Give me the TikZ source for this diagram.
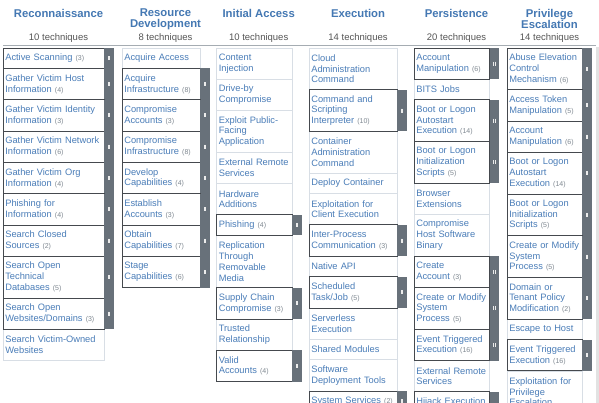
\documentclass[tikz,border=0pt]{standalone}
\usepackage{fontspec}
\setmainfont{Liberation Sans}
\usepackage{tikz}
\usetikzlibrary{positioning}
\definecolor{blue600}{HTML}{4A7DB8}
\definecolor{blue700}{HTML}{4478B3}
\definecolor{gray300}{HTML}{D8DEE5}
\definecolor{gray400}{HTML}{E2E2E2}
\definecolor{gray500}{HTML}{7F8891}
\definecolor{gray600}{HTML}{555555}
\definecolor{gray700}{HTML}{68717A}
\definecolor{gray800}{HTML}{45494E}
\tikzstyle{tactic}=[anchor=north, inner sep=0pt, align=center, text=blue700, font=\fontsize{11.3}{10.5}\selectfont\bfseries]
\tikzstyle{ntech}=[anchor=base, inner sep=0pt, text=gray600, font=\fontsize{9.5}{11}\selectfont]
\tikzstyle{tech}=[rectangle, draw=gray300, line width=0.8pt, outer sep=0pt, inner xsep=2.3pt, inner ysep=0pt, align=left, text=blue600, font=\fontsize{9.3}{10.8}\selectfont]
\tikzstyle{grip}=[draw=white!85!gray, line width=0.7pt]
\tikzstyle{ht1}=[minimum height=20.5pt]
\tikzstyle{ht2}=[minimum height=31.3pt]
\tikzstyle{ht3}=[minimum height=41.7pt]
\tikzstyle{ht4}=[minimum height=52.3pt]
\tikzstyle{wRc}=[text width=96.4pt]
\tikzstyle{wRd}=[text width=73.4pt]
\tikzstyle{wIa}=[text width=70.9pt]
\tikzstyle{wEx}=[text width=83.4pt]
\tikzstyle{wPe}=[text width=70.9pt]
\tikzstyle{wPv}=[text width=70.4pt]
% sub-technique count and the dark side bar
\newcommand{\nsub}[1]{{\fontsize{7}{8}\selectfont\color{gray500}(#1)}}
\newcommand{\subbar}[1]{%
  \draw[gray800, line width=0.9pt] (#1.north west) rectangle (#1.south east);
  \fill[gray700] (#1.north east) rectangle ([xshift=9.7pt]#1.south east);
  \draw[grip] ([xshift=4pt,yshift=2pt]#1.east) -- ++(0,4) ([xshift=5.8pt,yshift=2pt]#1.east) -- ++(0,4);}

\begin{document}
\begin{tikzpicture}[x=1pt, y=-1pt]
	\clip (0,0) rectangle (599,403);
	\fill[white] (0,0) rectangle (599,403);
	\fill[gray400] (596,47) rectangle (599,403);
	% tactics
	\node[tactic] (tRc) at (58.5,9) {Reconnaissance};
	\node[tactic] (tRd) at (165.5,9) {Resource\\Development};
	\node[tactic] (tIa) at (258.7,9) {Initial Access};
	\node[tactic] (tEx) at (358,9) {Execution};
	\node[tactic] (tPe) at (456.5,9) {Persistence};
	\node[tactic] (tPv) at (549.5,9) {Privilege\\Escalation};
	\node[ntech] (nRc) at (58.5,40.5) {10 techniques};
	\node[ntech] (nRd) at (165.5,40.5) {8 techniques};
	\node[ntech] (nIa) at (258.7,40.5) {10 techniques};
	\node[ntech] (nEx) at (358,40.5) {14 techniques};
	\node[ntech] (nPe) at (456.5,40.5) {20 techniques};
	\node[ntech] (nPv) at (549.5,40.5) {14 techniques};
	\path[draw=gray500!70, line width=1pt] (3,45.5)--(596,45.5);

	% Reconnaissance
	\node[tech, wRc, ht1, anchor=north west] (rc1) at (3,48) {Active Scanning \nsub{3}};
	\node[tech, wRc, ht2, below=0pt of rc1] (rc2) {Gather Victim Host\\Information \nsub{4}};
	\node[tech, wRc, ht2, below=0pt of rc2] (rc3) {Gather Victim Identity\\Information \nsub{3}};
	\node[tech, wRc, ht2, below=0pt of rc3] (rc4) {Gather Victim Network\\Information \nsub{6}};
	\node[tech, wRc, ht2, below=0pt of rc4] (rc5) {Gather Victim Org\\Information \nsub{4}};
	\node[tech, wRc, ht2, below=0pt of rc5] (rc6) {Phishing for\\Information \nsub{4}};
	\node[tech, wRc, ht2, below=0pt of rc6] (rc7) {Search Closed\\Sources \nsub{2}};
	\node[tech, wRc, ht3, below=0pt of rc7] (rc8) {Search Open\\Technical\\Databases \nsub{5}};
	\node[tech, wRc, ht2, below=0pt of rc8] (rc9) {Search Open\\Websites/Domains \nsub{3}};
	\node[tech, wRc, ht2, below=0pt of rc9] (rc10) {Search Victim-Owned\\Websites};
	\subbar{rc1}\subbar{rc2}\subbar{rc3}\subbar{rc4}\subbar{rc5}
	\subbar{rc6}\subbar{rc7}\subbar{rc8}\subbar{rc9}

	% Resource Development
	\node[tech, wRd, ht1, anchor=north west] (rd1) at (122,48) {Acquire Access};
	\node[tech, wRd, ht2, below=0pt of rd1] (rd2) {Acquire\\Infrastructure \nsub{8}};
	\node[tech, wRd, ht2, below=0pt of rd2] (rd3) {Compromise\\Accounts \nsub{3}};
	\node[tech, wRd, ht2, below=0pt of rd3] (rd4) {Compromise\\Infrastructure \nsub{8}};
	\node[tech, wRd, ht2, below=0pt of rd4] (rd5) {Develop\\Capabilities \nsub{4}};
	\node[tech, wRd, ht2, below=0pt of rd5] (rd6) {Establish\\Accounts \nsub{3}};
	\node[tech, wRd, ht2, below=0pt of rd6] (rd7) {Obtain\\Capabilities \nsub{7}};
	\node[tech, wRd, ht2, below=0pt of rd7] (rd8) {Stage\\Capabilities \nsub{6}};
	\subbar{rd2}\subbar{rd3}\subbar{rd4}\subbar{rd5}\subbar{rd6}\subbar{rd7}\subbar{rd8}

	% Initial Access
	\node[tech, wIa, ht2, anchor=north west] (ia1) at (216.5,48) {Content\\Injection};
	\node[tech, wIa, ht2, below=0pt of ia1] (ia2) {Drive-by\\Compromise};
	\node[tech, wIa, ht3, below=0pt of ia2] (ia3) {Exploit Public-\\Facing\\Application};
	\node[tech, wIa, ht2, below=0pt of ia3] (ia4) {External Remote\\Services};
	\node[tech, wIa, ht2, below=0pt of ia4] (ia5) {Hardware\\Additions};
	\node[tech, wIa, ht1, below=0pt of ia5] (ia6) {Phishing \nsub{4}};
	\node[tech, wIa, ht4, below=0pt of ia6] (ia7) {Replication\\Through\\Removable\\Media};
	\node[tech, wIa, ht2, below=0pt of ia7] (ia8) {Supply Chain\\Compromise \nsub{3}};
	\node[tech, wIa, ht2, below=0pt of ia8] (ia9) {Trusted\\Relationship};
	\node[tech, wIa, ht2, below=0pt of ia9] (ia10) {Valid\\Accounts \nsub{4}};
	\subbar{ia6}\subbar{ia8}\subbar{ia10}

	% Execution
	\node[tech, wEx, ht3, anchor=north west] (ex1) at (309,48) {Cloud\\Administration\\Command};
	\node[tech, wEx, ht3, below=0pt of ex1] (ex2) {Command and\\Scripting\\Interpreter \nsub{10}};
	\node[tech, wEx, ht3, below=0pt of ex2] (ex3) {Container\\Administration\\Command};
	\node[tech, wEx, ht1, below=0pt of ex3] (ex4) {Deploy Container};
	\node[tech, wEx, ht2, below=0pt of ex4] (ex5) {Exploitation for\\Client Execution};
	\node[tech, wEx, ht2, below=0pt of ex5] (ex6) {Inter-Process\\Communication \nsub{3}};
	\node[tech, wEx, ht1, below=0pt of ex6] (ex7) {Native API};
	\node[tech, wEx, ht2, below=0pt of ex7] (ex8) {Scheduled\\Task/Job \nsub{5}};
	\node[tech, wEx, ht2, below=0pt of ex8] (ex9) {Serverless\\Execution};
	\node[tech, wEx, ht1, below=0pt of ex9] (ex10) {Shared Modules};
	\node[tech, wEx, ht2, below=0pt of ex10] (ex11) {Software\\Deployment Tools};
	\node[tech, wEx, ht1, below=0pt of ex11] (ex12) {System Services \nsub{2}};
	\subbar{ex2}\subbar{ex6}\subbar{ex8}\subbar{ex12}

	% Persistence
	\node[tech, wPe, ht2, anchor=north west] (pe1) at (414,48) {Account\\Manipulation \nsub{6}};
	\node[tech, wPe, ht1, below=0pt of pe1] (pe2) {BITS Jobs};
	\node[tech, wPe, ht3, below=0pt of pe2] (pe3) {Boot or Logon\\Autostart\\Execution \nsub{14}};
	\node[tech, wPe, ht3, below=0pt of pe3] (pe4) {Boot or Logon\\Initialization\\Scripts \nsub{5}};
	\node[tech, wPe, ht2, below=0pt of pe4] (pe5) {Browser\\Extensions};
	\node[tech, wPe, ht3, below=0pt of pe5] (pe6) {Compromise\\Host Software\\Binary};
	\node[tech, wPe, ht2, below=0pt of pe6] (pe7) {Create\\Account \nsub{3}};
	\node[tech, wPe, ht3, below=0pt of pe7] (pe8) {Create or Modify\\System\\Process \nsub{5}};
	\node[tech, wPe, ht2, below=0pt of pe8] (pe9) {Event Triggered\\Execution \nsub{16}};
	\node[tech, wPe, ht2, below=0pt of pe9] (pe10) {External Remote\\Services};
	\node[tech, wPe, ht2, below=0pt of pe10] (pe11) {Hijack Execution\\Flow \nsub{12}};
	\subbar{pe1}\subbar{pe3}\subbar{pe4}\subbar{pe7}\subbar{pe8}\subbar{pe9}\subbar{pe11}

	% Privilege Escalation
	\node[tech, wPv, ht3, anchor=north west] (pv1) at (507,48) {Abuse Elevation\\Control\\Mechanism \nsub{6}};
	\node[tech, wPv, ht2, below=0pt of pv1] (pv2) {Access Token\\Manipulation \nsub{5}};
	\node[tech, wPv, ht2, below=0pt of pv2] (pv3) {Account\\Manipulation \nsub{6}};
	\node[tech, wPv, ht3, below=0pt of pv3] (pv4) {Boot or Logon\\Autostart\\Execution \nsub{14}};
	\node[tech, wPv, ht3, below=0pt of pv4] (pv5) {Boot or Logon\\Initialization\\Scripts \nsub{5}};
	\node[tech, wPv, ht3, below=0pt of pv5] (pv6) {Create or Modify\\System\\Process \nsub{5}};
	\node[tech, wPv, ht3, below=0pt of pv6] (pv7) {Domain or\\Tenant Policy\\Modification \nsub{2}};
	\node[tech, wPv, ht1, below=0pt of pv7] (pv8) {Escape to Host};
	\node[tech, wPv, ht2, below=0pt of pv8] (pv9) {Event Triggered\\Execution \nsub{16}};
	\node[tech, wPv, ht3, below=0pt of pv9] (pv10) {Exploitation for\\Privilege\\Escalation};
	\subbar{pv1}\subbar{pv2}\subbar{pv3}\subbar{pv4}\subbar{pv5}\subbar{pv6}\subbar{pv7}\subbar{pv9}
\end{tikzpicture}
\end{document}
